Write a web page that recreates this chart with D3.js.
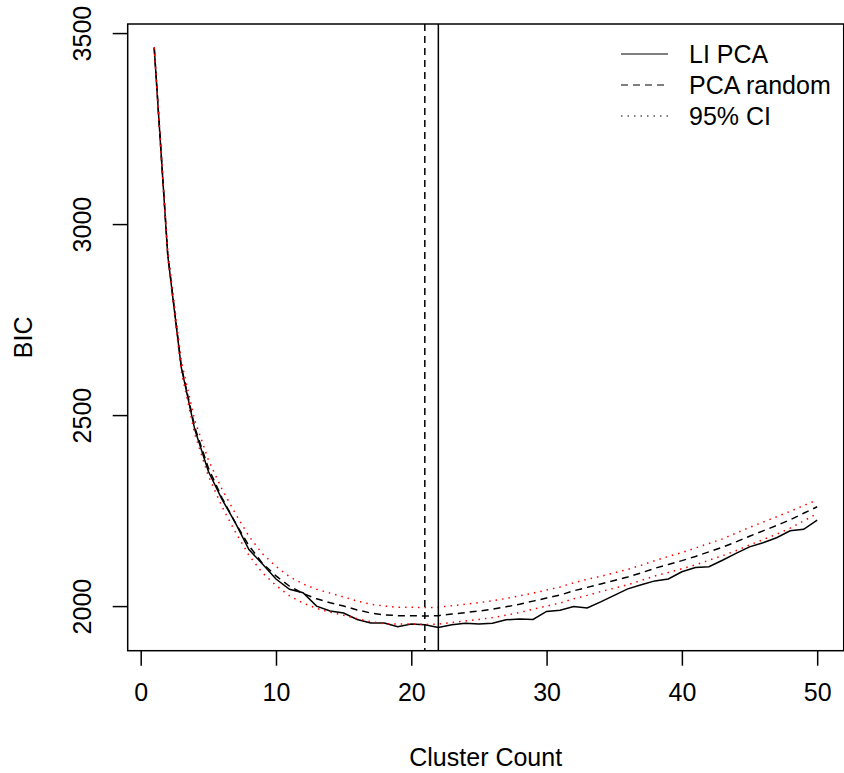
<!DOCTYPE html>
<html>
<head>
<meta charset="utf-8">
<script src="https://cdn.jsdelivr.net/npm/d3@7"></script>
<style>
  body { margin: 0; background: #fff; }
  text { font-family: "Liberation Sans", Arial, Helvetica, sans-serif; }
</style>
</head>
<body>
<div id="container"></div>
<script>
/* DATA */
const clusters = [1,2,3,4,5,6,7,8,9,10,11,12,13,14,15,16,17,18,19,20,21,22,23,24,25,
  26,27,28,29,30,31,32,33,34,35,36,37,38,39,40,41,42,43,44,45,46,47,48,49,50];

// LI PCA (solid)
const liPCA = [3462,2918,2625,2462,2353,2280,2218,2148,2110,2071,2044,2035,2000,1987,1982,
  1965,1956,1956,1946,1953,1951,1944,1951,1955,1953,1955,1964,1966,1965,1986,
  1989,1999,1995,2011,2028,2045,2056,2066,2071,2090,2101,2103,2120,2138,2155,
  2166,2179,2197,2201,2225];

// PCA random mean (dashed)
const pcaRandom = [3462,2922,2628,2468,2362,2284,2218,2158,2112,2079,2052,2033,2019,2009,2000,
  1990,1982,1977,1975,1975,1974,1975,1979,1983,1987,1992,1998,2005,2013,2021,
  2029,2040,2049,2058,2067,2076,2087,2099,2109,2119,2130,2142,2154,2168,2183,
  2197,2211,2226,2243,2260];

// 95% CI bounds (red dotted)
const ciUpper = [3463,2930,2642,2486,2383,2307,2242,2183,2137,2104,2077,2058,2044,2034,2024,
  2013,2005,2000,1997,1997,1996,1997,2001,2005,2009,2014,2020,2027,2034,2042,
  2050,2061,2070,2078,2087,2096,2107,2119,2130,2140,2152,2164,2176,2191,2206,
  2220,2234,2248,2263,2278];
const ciLower = [3461,2914,2614,2450,2341,2261,2194,2133,2087,2054,2027,2008,1994,1984,1976,
  1967,1959,1954,1953,1953,1952,1953,1957,1961,1965,1970,1976,1983,1992,2000,
  2008,2019,2028,2038,2047,2056,2067,2079,2088,2098,2108,2120,2132,2145,2160,
  2174,2188,2204,2223,2242];

const xTicks = [0,10,20,30,40,50];
const yTicks = [2000,2500,3000,3500];
const bestRandom = 21, bestLI = 22; // vertical markers

/* CONSTANTS */
const width = 844, height = 773;
const plotL = 127.7, plotR = 843.7, plotT = 24, plotB = 650.7;
const fontSize = "25px";

const svg = d3.select("#container").append("svg")
  .attr("width", width)
  .attr("height", height);

/* SCALES */
// R style: pad data range by 4% each side
const pad = (lo, hi) => [lo - (hi - lo) * 0.04, hi + (hi - lo) * 0.04];
const xScale = d3.scaleLinear()
  .domain(pad(d3.min(clusters), d3.max(clusters)))
  .range([plotL, plotR]);
const allY = liPCA.concat(pcaRandom, ciUpper, ciLower);
const yScale = d3.scaleLinear()
  .domain(pad(d3.min(allY), d3.max(allY)))
  .range([plotB, plotT]);

const line = d3.line()
  .x((d, i) => xScale(clusters[i]))
  .y(d => yScale(d));

svg.append("clipPath").attr("id", "plot")
  .append("rect")
  .attr("x", plotL).attr("y", plotT)
  .attr("width", plotR - plotL).attr("height", plotB - plotT);

const g = svg.append("g").attr("clip-path", "url(#plot)");

/* LINES */
g.append("path").datum(liPCA)
  .attr("d", line)
  .attr("fill", "none").attr("stroke", "#000").attr("stroke-width", 1.5);

g.append("path").datum(pcaRandom)
  .attr("d", line)
  .attr("fill", "none").attr("stroke", "#000").attr("stroke-width", 1.5)
  .attr("stroke-dasharray", "7,5");

[ciUpper, ciLower].forEach(s => {
  g.append("path").datum(s)
    .attr("d", line)
    .attr("fill", "none").attr("stroke", "red").attr("stroke-width", 1.5)
    .attr("stroke-dasharray", "1.5,5");
});

g.append("line")
  .attr("x1", xScale(bestRandom)).attr("x2", xScale(bestRandom))
  .attr("y1", plotT).attr("y2", plotB)
  .attr("stroke", "#000").attr("stroke-width", 1.5)
  .attr("stroke-dasharray", "7,5");

g.append("line")
  .attr("x1", xScale(bestLI)).attr("x2", xScale(bestLI))
  .attr("y1", plotT).attr("y2", plotB)
  .attr("stroke", "#000").attr("stroke-width", 1.5);

/* AXES */
const xAxis = d3.axisBottom(xScale).tickValues(xTicks).tickSize(15).tickPadding(18);
const yAxis = d3.axisLeft(yScale).tickValues(yTicks).tickSize(15).tickFormat(d3.format("d"));

const gx = svg.append("g")
  .attr("transform", `translate(0,${plotB})`)
  .call(xAxis);
const gy = svg.append("g")
  .attr("transform", `translate(${plotL},0)`)
  .call(yAxis);

[gx, gy].forEach(a => {
  a.select(".domain").remove();
  a.selectAll("line").attr("stroke", "#000").attr("stroke-width", 1.5);
  a.selectAll("text").attr("fill", "#000").style("font-size", fontSize);
});

gy.selectAll("text")
  .attr("x", null).attr("dy", null)
  .attr("text-anchor", "middle")
  .attr("dominant-baseline", "central")
  .attr("transform", "translate(-46,0) rotate(-90)");

// box
svg.append("rect")
  .attr("x", plotL).attr("y", plotT)
  .attr("width", plotR - plotL).attr("height", plotB - plotT)
  .attr("fill", "none").attr("stroke", "#000").attr("stroke-width", 1.5);

/* TITLES */
svg.append("text")
  .attr("x", (plotL + plotR) / 2).attr("y", 757)
  .attr("text-anchor", "middle").attr("dominant-baseline", "central")
  .style("font-size", fontSize)
  .text("Cluster Count");

svg.append("text")
  .attr("transform", `translate(23,${(plotT + plotB) / 2}) rotate(-90)`)
  .attr("text-anchor", "middle").attr("dominant-baseline", "central")
  .style("font-size", fontSize)
  .text("BIC");

/* LEGEND */
const legendNames = ["LI PCA", "PCA random", "95% CI"];
const legendDash = [null, "7,5", "1.5,5"];
const leg = svg.append("g").selectAll("g")
  .data(legendNames)
  .join("g")
  .attr("transform", (d, i) => `translate(0,${54 + i * 31})`);

leg.append("line")
  .attr("x1", 621).attr("x2", 668)
  .attr("stroke", "#000").attr("stroke-width", 1.2)
  .attr("stroke-dasharray", (d, i) => legendDash[i]);

leg.append("text")
  .attr("x", 689)
  .attr("dominant-baseline", "central")
  .style("font-size", fontSize)
  .text(d => d);
</script>
</body>
</html>
